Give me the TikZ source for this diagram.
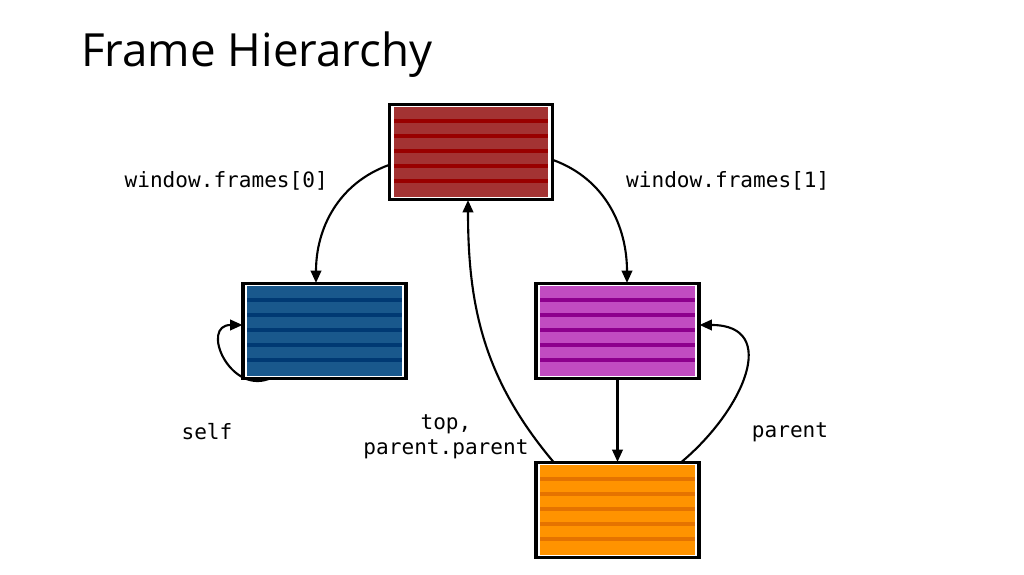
\documentclass[tikz,border=0pt]{standalone}
\usepackage{fontspec}
\setmainfont{Open Sans}
\setmonofont{DejaVu Sans Mono}
\usetikzlibrary{arrows.meta,positioning}
\tikzset{%
  frame/.style={rectangle,draw=black,line width=1.2pt,minimum width=3.24cm,minimum height=1.88cm,inner sep=0pt},
  link/.style={-{Triangle[length=7pt,width=6pt]},line width=1.2pt},
  lbl/.style={font=\ttfamily\fontsize{12}{14}\selectfont,align=center}%
}
\newcommand{\stripes}[3]{% node, fill, line colour
  \fill[#2] ([shift={(0.1,-0.06)}]#1.north west) rectangle ([shift={(-0.1,0.06)}]#1.south east);
  \foreach \k in {1,...,5}
    \draw[#3,line width=2pt] ([shift={(0.1,-\k*0.3-0.04)}]#1.north west) -- ([shift={(-0.1,-\k*0.3-0.04)}]#1.north east);
}
\begin{document}
\begin{tikzpicture}
  \useasboundingbox (0,0) rectangle (20.48,11.5);
  \node (title) [anchor=west,font=\fontsize{26}{30}\selectfont] at (1.5,10.4) {Frame Hierarchy};

  \node (top) [frame] at (9.42,8.46) {};
  \node (child0) [frame] at (6.49,4.88) {};
  \node (child1) [frame] at (12.35,4.88) {};
  \node (grand) [frame] at (12.35,1.30) {};

  \stripes{top}{red!55!black!80!white}{red!60!black}
  \stripes{child0}{blue!45!cyan!50!black!90!white}{blue!50!cyan!45!black}
  \stripes{child1}{violet!70!magenta!70!white}{violet!70!magenta!85!black}
  \stripes{grand}{orange!85!yellow}{orange!90!black}
  \foreach \n in {top,child0,child1,grand}
    \draw[line width=1.2pt] (\n.north west) rectangle (\n.south east);

  \draw[link] ([yshift=-0.26cm]top.west) to[out=200,in=90] (child0.north west -| 6.32,0);
  \draw[link] ([yshift=-0.16cm]top.east) to[out=-20,in=90] (child1.north west -| 12.54,0);
  \draw[link] ([xshift=0.52cm]child0.south west) to[out=200,in=180,looseness=1.8] ([yshift=0.12cm]child0.west);
  \draw[link] (child1.south) -- (grand.north);
  \draw[link] ([xshift=-0.36cm]grand.north east) to[out=40,in=0,looseness=1.5] ([yshift=0.12cm]child1.east);
  \draw[link] ([xshift=0.36cm]grand.north west) to[out=130,in=-90] ([xshift=-0.06cm]top.south);

  \node (l0) [lbl,anchor=east] at (6.68,7.88) {window.frames[0]};
  \node (l1) [lbl,anchor=west] at (12.40,7.88) {window.frames[1]};
  \node (lself) [lbl] at (4.14,2.86) {self};
  \node (ltop) [lbl] at (8.92,2.76) {top,\\parent.parent};
  \node (lpar) [lbl] at (15.80,2.86) {parent};
\end{tikzpicture}
\end{document}
